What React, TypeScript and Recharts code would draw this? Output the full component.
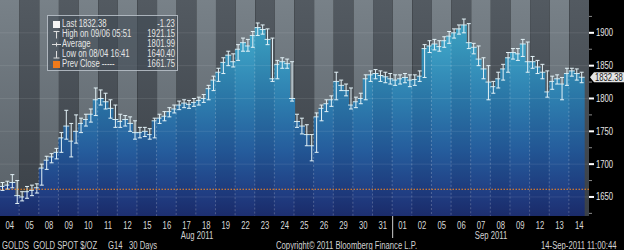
import { ComposedChart, Bar, ErrorBar, XAxis, YAxis, ReferenceArea, ReferenceLine } from 'recharts';

// trading days shown (GOLDS, 30 days, 4 bars per day)
const dates = ['08/04', '08/05', '08/08', '08/09', '08/10', '08/11', '08/12', '08/15', '08/16', '08/17',
  '08/18', '08/19', '08/22', '08/23', '08/24', '08/25', '08/26', '08/29', '08/30', '08/31',
  '09/01', '09/02', '09/05', '09/06', '09/07', '09/08', '09/09', '09/12', '09/13', '09/14'];

const closes = [
  1666, 1668, 1672, 1652, 1650, 1658, 1660, 1664, 1694, 1706, 1711, 1718,
  1740, 1758, 1735, 1750, 1762, 1768, 1776, 1798, 1800, 1795, 1785, 1768,
  1765, 1768, 1762, 1748, 1748, 1750, 1745, 1766, 1770, 1773, 1780, 1784,
  1790, 1793, 1791, 1794, 1797, 1800, 1815, 1828, 1840, 1855, 1866, 1856,
  1875, 1885, 1880, 1896, 1908, 1905, 1890, 1830, 1852, 1856, 1853, 1800,
  1765, 1758, 1745, 1728, 1772, 1785, 1792, 1798, 1826, 1820, 1812, 1790,
  1795, 1800, 1830, 1836, 1838, 1835, 1833, 1830, 1828, 1830, 1832, 1828,
  1829, 1834, 1876, 1880, 1883, 1879, 1888, 1895, 1900, 1906, 1912, 1885,
  1878, 1860, 1845, 1825, 1818, 1830, 1845, 1862, 1870, 1868, 1883, 1856,
  1856, 1848, 1840, 1810, 1826, 1830, 1822, 1838, 1842, 1838, 1832.38,
];

const highs = [
  1672, 1674, 1684, 1675, 1658, 1666, 1668, 1670, 1700, 1712, 1716, 1724,
  1748, 1782, 1762, 1775, 1770, 1776, 1784, 1816, 1813, 1808, 1798, 1790,
  1776, 1774, 1772, 1766, 1756, 1756, 1754, 1770, 1776, 1780, 1786, 1790,
  1796, 1798, 1797, 1800, 1802, 1806, 1820, 1834, 1846, 1862, 1872, 1868,
  1882, 1892, 1890, 1902, 1915, 1912, 1906, 1892, 1858, 1862, 1860, 1856,
  1776, 1770, 1760, 1745, 1778, 1790, 1798, 1804, 1840, 1828, 1822, 1816,
  1802, 1808, 1836, 1842, 1844, 1842, 1840, 1838, 1836, 1836, 1838, 1836,
  1836, 1842, 1882, 1888, 1890, 1888, 1894, 1902, 1906, 1912, 1921, 1914,
  1884, 1880, 1862, 1850, 1826, 1840, 1852, 1870, 1876, 1876, 1890, 1886,
  1864, 1858, 1852, 1842, 1834, 1836, 1832, 1846, 1846, 1845, 1840,
];

const lows = [
  1660, 1662, 1664, 1640, 1644, 1648, 1652, 1656, 1668, 1692, 1702, 1708,
  1718, 1738, 1711, 1732, 1748, 1758, 1764, 1774, 1790, 1784, 1770, 1756,
  1756, 1758, 1750, 1738, 1740, 1742, 1738, 1740, 1762, 1766, 1772, 1778,
  1783, 1786, 1785, 1788, 1790, 1794, 1798, 1812, 1826, 1838, 1850, 1848,
  1858, 1872, 1872, 1878, 1896, 1898, 1882, 1826, 1830, 1846, 1846, 1796,
  1756, 1746, 1728, 1705, 1718, 1766, 1780, 1788, 1798, 1812, 1804, 1784,
  1786, 1792, 1798, 1826, 1830, 1826, 1824, 1822, 1820, 1822, 1824, 1818,
  1820, 1826, 1832, 1870, 1874, 1872, 1878, 1884, 1892, 1898, 1900, 1876,
  1868, 1850, 1830, 1798, 1808, 1816, 1828, 1840, 1860, 1858, 1864, 1840,
  1846, 1838, 1830, 1802, 1814, 1822, 1798, 1820, 1834, 1828, 1824,
];

const priceTicks = [1625, 1650, 1675, 1700, 1725, 1750, 1775, 1800, 1825, 1850, 1875, 1900, 1925];
const gridPrices = [1650, 1700, 1750, 1800, 1850, 1900];
const prevClose = 1661.75;
const lastPrice = 1832.38;

const legendRows = [
  { icon: 'last', label: 'Last 1832.38', value: '-1.23' },
  { icon: 'high', label: 'High on 09/06 05:51', value: '1921.15' },
  { icon: 'avg', label: 'Average', value: '1801.99' },
  { icon: 'low', label: 'Low on 08/04 16:41', value: '1640.40' },
  { icon: 'prev', label: 'Prev Close -----', value: '1661.75' },
];

const PER_DAY = 4;
const PLOT_W = 589;
const BAND = PLOT_W / (dates.length * PER_DAY);
const FONT = "'Liberation Sans', Arial, sans-serif";
const NARROW = 0.77; // bloomberg font is condensed

const rows = dates.flatMap((d, di) =>
  Array.from({ length: PER_DAY }, (_, k) => {
    const i = di * PER_DAY + k;
    const c = closes[i];
    return {
      slot: `${d}-${k}`,
      day: di,
      first: k === 0,
      close: c,
      err: c == null ? undefined : [c - lows[i], highs[i] - c],
    };
  })
);

const StepShape = (props: any) => {
  const { x, y, width, height, payload } = props;
  if (payload == null || payload.close == null || !isFinite(y)) return <g />;
  const fill = payload.day % 2 ? 'url(#blueDark)' : 'url(#blueLight)';
  return (
    <g>
      <rect x={x - 0.5} y={y} width={width + 1} height={height} fill={fill} />
      <line x1={x - 0.5} x2={x + width + 0.5} y1={y} y2={y} stroke="#cfeaf3" strokeWidth={1} />
      {payload.first && (
        <line x1={x - 0.5} x2={x - 0.5} y1={y} y2={y + height} stroke="rgba(255,255,255,0.22)" strokeDasharray="2 2" />
      )}
    </g>
  );
};

const DayTick = ({ x, y, payload }: any) => {
  const d = String(payload.value).slice(0, 5);
  const cx = x - BAND / 2;
  return (
    <g>
      {d === '09/01' && <line x1={cx - 2 * BAND} x2={cx - 2 * BAND} y1={y} y2={y + 22} stroke="#cfcfcf" strokeWidth={1} />}
      <text transform={`translate(${cx},${y + 13}) scale(${NARROW},1)`} textAnchor="middle" fill="#d9d9d9" fontSize={10} fontFamily={FONT}>
        {d.slice(3)}
      </text>
    </g>
  );
};

const PriceTick = ({ x, y, payload }: any) => {
  const major = payload.value % 50 === 0;
  return (
    <g>
      <line x1={x} x2={x + (major ? 5 : 3)} y1={y} y2={y} stroke={major ? '#ffffff' : '#8a8a8a'} strokeWidth={major ? 2 : 1} />
      {major && (
        <text transform={`translate(${x + 7},${y + 3.5}) scale(${NARROW},1)`} fill="#e6e6e6" fontSize={10} fontFamily={FONT}>
          {payload.value}
        </text>
      )}
    </g>
  );
};

const LastLabel = ({ viewBox }: any) => {
  const right = viewBox.x + viewBox.width;
  const y = viewBox.y;
  return (
    <g>
      <polygon
        points={`${right + 1},${y} ${right + 5},${y - 5} ${right + 35},${y - 5} ${right + 35},${y + 5} ${right + 5},${y + 5}`}
        fill="#e4e4e4"
      />
      <text transform={`translate(${right + 6},${y + 3.5}) scale(${NARROW},1)`} fill="#222" fontSize={10} fontFamily={FONT}>
        {lastPrice.toFixed(2)}
      </text>
    </g>
  );
};

const LegendIcon = ({ kind }: { kind: string }) => {
  if (kind === 'last') return <svg width={9} height={9}><rect x={1} y={1} width={7} height={7} fill="#f4f4f4" /></svg>;
  if (kind === 'prev') return <svg width={9} height={9}><rect x={1} y={1} width={7} height={7} fill="#f07a1a" /></svg>;
  if (kind === 'high')
    return (
      <svg width={9} height={9}>
        <line x1={1.5} x2={7.5} y1={1.5} y2={1.5} stroke="#ddd" />
        <line x1={4.5} x2={4.5} y1={1.5} y2={8.5} stroke="#ddd" />
      </svg>
    );
  if (kind === 'low')
    return (
      <svg width={9} height={9}>
        <line x1={1.5} x2={7.5} y1={8} y2={8} stroke="#ddd" />
        <line x1={4.5} x2={4.5} y1={1} y2={8} stroke="#ddd" />
      </svg>
    );
  return (
    <svg width={9} height={9}>
      <line x1={0} x2={9} y1={4.5} y2={4.5} stroke="#ddd" />
      <line x1={4.5} x2={4.5} y1={2.5} y2={6.5} stroke="#ddd" />
    </svg>
  );
};

const Narrow = ({ children, origin = 'left' }: any) => (
  <span style={{ display: 'inline-block', transform: `scaleX(${NARROW})`, transformOrigin: origin, whiteSpace: 'pre' }}>{children}</span>
);

const textStyle: any = { position: 'absolute', color: '#d2d2d2', fontSize: 10, fontFamily: FONT, whiteSpace: 'pre', lineHeight: '10px' };

export default function App() {
  return (
    <div style={{ position: 'absolute', left: 0, top: 0, width: 624, height: 250, background: '#000', overflow: 'hidden' }}>
      <ComposedChart width={624} height={250} data={rows} margin={{ top: 0, right: 0, bottom: 0, left: 0 }} barCategoryGap={0} barGap={0}>
        <defs>
          <linearGradient id="grayLight" x1="0" y1="0" x2="0" y2="1">
            <stop offset="0%" stopColor="#788188" />
            <stop offset="100%" stopColor="#586067" />
          </linearGradient>
          <linearGradient id="grayDark" x1="0" y1="0" x2="0" y2="1">
            <stop offset="0%" stopColor="#535a61" />
            <stop offset="100%" stopColor="#3a4047" />
          </linearGradient>
          <linearGradient id="blueLight" gradientUnits="userSpaceOnUse" x1="0" y1="0" x2="0" y2="216">
            <stop offset="0%" stopColor="#4cb4d2" />
            <stop offset="20%" stopColor="#3da1c5" />
            <stop offset="45%" stopColor="#2e80b0" />
            <stop offset="70%" stopColor="#255c9c" />
            <stop offset="90%" stopColor="#203d82" />
            <stop offset="100%" stopColor="#1d2f70" />
          </linearGradient>
          <linearGradient id="blueDark" gradientUnits="userSpaceOnUse" x1="0" y1="0" x2="0" y2="216">
            <stop offset="0%" stopColor="#45a8c7" />
            <stop offset="20%" stopColor="#3797bb" />
            <stop offset="45%" stopColor="#2a76a6" />
            <stop offset="70%" stopColor="#225593" />
            <stop offset="90%" stopColor="#1d387a" />
            <stop offset="100%" stopColor="#1a2b69" />
          </linearGradient>
        </defs>
        <XAxis
          dataKey="slot"
          height={34}
          axisLine={false}
          tickLine={false}
          tickSize={0}
          tickMargin={0}
          ticks={dates.map((d) => `${d}-2`)}
          interval={0}
          tick={<DayTick />}
        />
        <YAxis
          orientation="right"
          width={35}
          domain={[1621, 1950]}
          allowDataOverflow
          ticks={priceTicks}
          interval={0}
          axisLine={false}
          tickLine={false}
          tickSize={0}
          tickMargin={0}
          tick={<PriceTick />}
        />
        {dates.map((d, di) => (
          <ReferenceArea
            key={d}
            x1={`${d}-0`}
            x2={`${d}-${PER_DAY - 1}`}
            fill={di % 2 ? 'url(#grayDark)' : 'url(#grayLight)'}
            fillOpacity={1}
            stroke="none"
          />
        ))}
        <Bar dataKey="close" shape={<StepShape />} isAnimationActive={false}>
          <ErrorBar dataKey="err" width={2} stroke="#e3f2f7" strokeWidth={1} direction="y" isAnimationActive={false} />
        </Bar>
        {gridPrices.map((p) => (
          <ReferenceLine key={p} y={p} stroke="rgba(255,255,255,0.09)" />
        ))}
        <ReferenceLine y={prevClose} stroke="#ff8a1c" strokeDasharray="1.5 1.5" strokeWidth={1.2} />
        <ReferenceLine y={lastPrice} stroke="none" label={<LastLabel />} />
      </ComposedChart>

      <div
        style={{
          position: 'absolute', left: 47, top: 15, width: 123, height: 51, background: 'rgba(64,74,84,0.6)',
          border: '1px solid rgba(205,212,220,0.75)', padding: '3px 2px 0 4px', boxSizing: 'content-box',
        }}
      >
        {legendRows.map((r) => (
          <div key={r.icon} style={{ position: 'relative', display: 'flex', alignItems: 'center', height: 10, fontSize: 10, fontFamily: FONT, color: '#e6e6e6' }}>
            <LegendIcon kind={r.icon} />
            <span style={{ position: 'absolute', left: 10, top: -1, lineHeight: '12px' }}>
              <Narrow>{r.label}</Narrow>
            </span>
            <span style={{ position: 'absolute', right: 0, top: -1, lineHeight: '12px' }}>
              <Narrow origin="right">{r.value}</Narrow>
            </span>
          </div>
        ))}
      </div>

      <div style={{ ...textStyle, left: 176, width: 40, textAlign: 'center', top: 231 }}><Narrow origin="center">Aug 2011</Narrow></div>
      <div style={{ ...textStyle, left: 470, width: 40, textAlign: 'center', top: 231 }}><Narrow origin="center">Sep 2011</Narrow></div>
      <div style={{ ...textStyle, left: 2, top: 241 }}><Narrow>GOLDS  GOLD SPOT $/OZ</Narrow></div>
      <div style={{ ...textStyle, left: 108, top: 241 }}><Narrow>G14   30 Days</Narrow></div>
      <div style={{ ...textStyle, left: 276, top: 241 }}><Narrow>Copyright© 2011 Bloomberg Finance L.P.</Narrow></div>
      <div style={{ ...textStyle, left: 541, top: 241 }}><Narrow>14-Sep-2011 11:00:44</Narrow></div>
    </div>
  );
}
